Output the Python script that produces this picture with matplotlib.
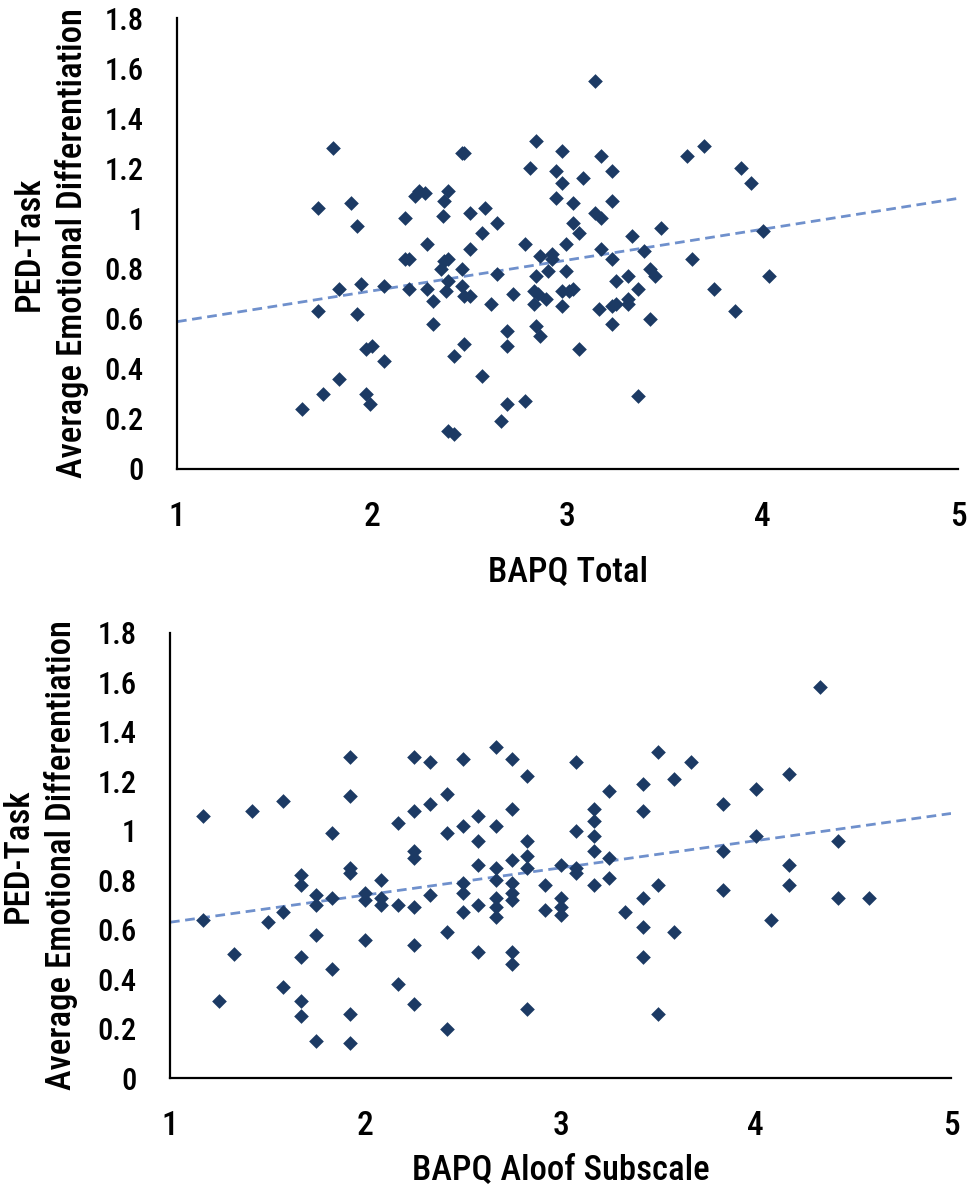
import matplotlib
matplotlib.use("Agg")
import matplotlib.pyplot as plt
import numpy as np

plt.rcParams['font.family'] = ['Liberation Sans Narrow', 'DejaVu Sans Condensed', 'Roboto Condensed',
                               'Open Sans Condensed', 'Noto Sans Display', 'Roboto', 'DejaVu Sans']
plt.rcParams['font.stretch'] = 'condensed'
plt.rcParams['font.weight'] = 'medium'

# BAPQ Total vs PED-Task (top panel)
total_x = [1.80, 1.72, 1.89, 1.92, 2.17, 2.24, 2.27, 2.22, 2.39, 2.37, 2.36, 2.46, 2.47, 2.50,
           2.58, 2.64, 2.56, 2.50, 2.28, 2.17, 2.19, 2.37, 2.39, 2.35, 2.46, 2.64, 2.78, 2.84,
           2.81, 2.97, 2.94, 2.97, 2.94, 2.92, 2.92, 2.86, 2.90, 2.84, 2.99, 2.99, 1.83, 1.94,
           2.06, 2.19, 2.28, 2.39, 2.38, 2.46, 2.47, 2.50, 2.31, 2.61, 2.72, 2.83, 2.85, 2.89,
           2.83, 2.97, 2.97, 1.72, 1.92, 2.31, 2.69, 2.69, 2.84, 2.86, 1.97, 2.00, 2.06, 2.47,
           2.42, 2.56, 1.83, 1.75, 1.97, 1.99, 1.64, 2.69, 2.78, 2.66, 2.39, 2.42,
           3.14, 3.17, 3.23, 3.08, 3.03, 3.23, 3.14, 3.17, 3.03, 3.06, 3.48, 3.33, 3.17, 3.23,
           3.39, 3.42, 3.45, 3.61, 3.70, 3.89, 3.94, 4.00, 3.64, 4.03, 3.75, 3.86, 3.25, 3.31,
           3.36, 3.01, 3.03, 3.16, 3.23, 3.25, 3.31, 3.31, 3.23, 3.42, 3.06, 3.36]
total_y = [1.28, 1.04, 1.06, 0.97, 1.00, 1.11, 1.10, 1.09, 1.11, 1.07, 1.01, 1.26, 1.26, 1.02,
           1.04, 0.98, 0.94, 0.88, 0.90, 0.84, 0.84, 0.83, 0.84, 0.80, 0.80, 0.78, 0.90, 1.31,
           1.20, 1.27, 1.19, 1.14, 1.08, 0.86, 0.84, 0.85, 0.79, 0.77, 0.90, 0.79, 0.72, 0.74,
           0.73, 0.72, 0.72, 0.75, 0.71, 0.73, 0.69, 0.69, 0.67, 0.66, 0.70, 0.71, 0.70, 0.68,
           0.66, 0.71, 0.65, 0.63, 0.62, 0.58, 0.55, 0.49, 0.57, 0.53, 0.48, 0.49, 0.43, 0.50,
           0.45, 0.37, 0.36, 0.30, 0.30, 0.26, 0.24, 0.26, 0.27, 0.19, 0.15, 0.14,
           1.55, 1.25, 1.19, 1.16, 1.06, 1.07, 1.02, 1.00, 0.98, 0.94, 0.96, 0.93, 0.88, 0.84,
           0.87, 0.80, 0.77, 1.25, 1.29, 1.20, 1.14, 0.95, 0.84, 0.77, 0.72, 0.63, 0.75, 0.77,
           0.72, 0.71, 0.72, 0.64, 0.65, 0.66, 0.68, 0.66, 0.58, 0.60, 0.48, 0.29]

# BAPQ Aloof subscale vs PED-Task (bottom panel)
aloof_x = [1.17, 1.17, 1.25, 1.33, 1.42, 1.50, 1.58, 1.58, 1.58, 1.67, 1.67, 1.67, 1.67, 1.67,
           1.75, 1.75, 1.75, 1.75, 1.83, 1.83, 1.83, 1.92, 1.92, 1.92, 1.92, 1.92, 1.92, 2.00,
           2.00, 2.00, 2.08, 2.08, 2.08, 2.17, 2.17, 2.17, 2.25, 2.25, 2.25, 2.25, 2.25, 2.25,
           2.25, 2.33, 2.33, 2.33, 2.42, 2.42, 2.42, 2.42, 2.50, 2.50, 2.50, 2.50, 2.50, 2.58,
           2.58, 2.58, 2.58, 2.58, 2.67, 2.67, 2.67, 2.67, 2.67, 2.67, 2.67, 2.75, 2.75, 2.75,
           2.75, 2.75, 2.75, 2.75, 2.75, 2.83, 2.83, 2.83, 2.83, 2.83, 2.92, 2.92,
           3.00, 3.00, 3.00, 3.00, 3.08, 3.08, 3.08, 3.08, 3.17, 3.17, 3.17, 3.17, 3.17, 3.25,
           3.25, 3.25, 3.33, 3.42, 3.42, 3.42, 3.42, 3.42, 3.50, 3.50, 3.50, 3.58, 3.58, 3.67,
           3.83, 3.83, 3.83, 4.00, 4.00, 4.08, 4.17, 4.17, 4.17, 4.33, 4.42, 4.42, 4.58]
aloof_y = [1.06, 0.64, 0.31, 0.50, 1.08, 0.63, 1.12, 0.67, 0.37, 0.82, 0.78, 0.49, 0.31, 0.25,
           0.74, 0.70, 0.58, 0.15, 0.99, 0.73, 0.44, 1.30, 1.14, 0.85, 0.83, 0.26, 0.14, 0.75,
           0.72, 0.56, 0.80, 0.73, 0.70, 1.03, 0.70, 0.38, 1.30, 1.08, 0.92, 0.89, 0.69, 0.54,
           0.30, 1.28, 1.11, 0.74, 1.15, 0.99, 0.59, 0.20, 1.29, 1.02, 0.79, 0.75, 0.67, 1.06,
           0.96, 0.86, 0.70, 0.51, 1.34, 1.02, 0.85, 0.80, 0.73, 0.69, 0.65, 1.29, 1.09, 0.88,
           0.79, 0.75, 0.72, 0.51, 0.46, 1.22, 0.96, 0.90, 0.85, 0.28, 0.78, 0.68,
           0.86, 0.73, 0.69, 0.66, 1.28, 1.00, 0.85, 0.83, 1.09, 1.04, 0.98, 0.92, 0.78, 1.16,
           0.89, 0.81, 0.67, 1.19, 1.08, 0.73, 0.61, 0.49, 1.32, 0.78, 0.26, 1.21, 0.59, 1.28,
           1.11, 0.92, 0.76, 1.17, 0.98, 0.64, 1.23, 0.86, 0.78, 1.58, 0.96, 0.73, 0.73]

# linear trend lines: (intercept, slope)
total_trend = (0.465, 0.123)
aloof_trend = (0.52, 0.11)

y_ticks = [0, 0.2, 0.4, 0.6, 0.8, 1, 1.2, 1.4, 1.6, 1.8]
y_ticklabels = ['0', '0.2', '0.4', '0.6', '0.8', '1', '1.2', '1.4', '1.6', '1.8']
x_ticks = [1, 2, 3, 4, 5]

marker_color = '#1c3a64'
trend_color = '#6f90cc'

W, H = 974, 1197
fig = plt.figure(figsize=(W / 100, H / 100), dpi=100)


def panel(rect_px, xs, ys, trend, xlabel, ylab_x, xlab_y):
    l, t, r, b = rect_px
    ax = fig.add_axes([l / W, 1 - b / H, (r - l) / W, (b - t) / H])
    ax.scatter(xs, ys, marker='D', s=56, color=marker_color, linewidths=0, zorder=3)
    tx = np.array([1, 5])
    ax.plot(tx, trend[0] + trend[1] * tx, linestyle=(0, (3.5, 2)), color=trend_color,
            linewidth=2, zorder=2)
    ax.set_xlim(1, 5)
    ax.set_ylim(0, 1.8)
    ax.set_xticks(x_ticks)
    ax.set_yticks(y_ticks)
    ax.set_yticklabels(y_ticklabels)
    ax.tick_params(length=0, colors='black')
    ax.tick_params(axis='x', pad=23, labelsize=24)
    ax.tick_params(axis='y', pad=24, labelsize=22)
    for s in ['top', 'right']:
        ax.spines[s].set_visible(False)
    for s in ['left', 'bottom']:
        ax.spines[s].set_linewidth(1.6)
        ax.spines[s].set_color('black')
    ax.text(0.5, xlab_y, xlabel, transform=ax.transAxes, ha='center', va='center', fontsize=25)
    ax.text(ylab_x, 0.5, 'PED-Task\nAverage Emotional Differentiation', transform=ax.transAxes,
            rotation=90, ha='center', va='center', multialignment='center', fontsize=25,
            linespacing=1.35)
    return ax


panel((177, 18, 958, 469), total_x, total_y, total_trend, 'BAPQ Total',
      (51 - 177) / 781, -(572 - 469) / 451)
panel((170, 633, 951, 1078), aloof_x, aloof_y, aloof_trend, 'BAPQ Aloof Subscale',
      (40 - 170) / 781, -(1170 - 1078) / 445)

plt.savefig('out.png', dpi=100)
